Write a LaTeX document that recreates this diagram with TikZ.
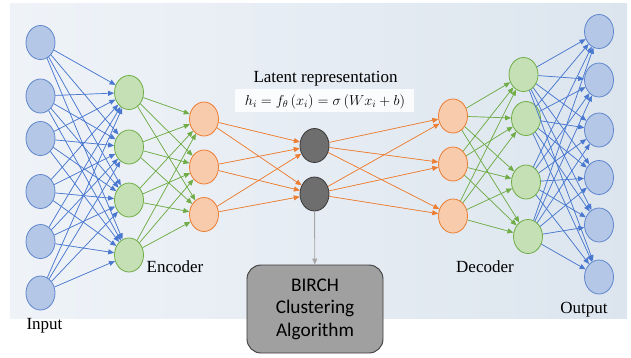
\documentclass[tikz,border=0pt]{standalone}
\usepackage{fontspec}
\setmainfont{Liberation Serif}
\newfontfamily\boxfont{Carlito}
\usetikzlibrary{shapes.geometric,arrows.meta}
\definecolor{bgL}{HTML}{EFF3F8}
\definecolor{bgR}{HTML}{DCE5EE}
\definecolor{blueFill}{HTML}{B4C7E7}
\definecolor{blueLine}{HTML}{4472C4}
\definecolor{blueEdge}{HTML}{4A78D0}
\definecolor{greenFill}{HTML}{C5E0B4}
\definecolor{greenLine}{HTML}{70AD47}
\definecolor{orangeFill}{HTML}{F8CBAD}
\definecolor{orangeLine}{HTML}{ED7D31}
\definecolor{latFill}{HTML}{6E6E6E}
\definecolor{latLine}{HTML}{3A3A3A}
\definecolor{boxFill}{HTML}{A0A0A0}
\definecolor{arrGray}{HTML}{A6A6A6}
\begin{document}
\begin{tikzpicture}[x=1pt,y=-1pt,
  neuron/.style={ellipse, minimum width=29pt, minimum height=34pt, inner sep=0pt, line width=0.8pt},
  bneuron/.style={neuron, fill=blueFill, draw=blueLine!85},
  gneuron/.style={neuron, fill=greenFill, draw=greenLine},
  oneuron/.style={neuron, fill=orangeFill, draw=orangeLine},
  lneuron/.style={neuron, fill=latFill, draw=latLine},
  edgebase/.style={line width=0.7pt, -{Triangle[length=6pt,width=5pt]}},
  bedge/.style={edgebase, draw=blueEdge, fill=blueEdge},
  gedge/.style={edgebase, draw=greenLine, fill=greenLine},
  oedge/.style={edgebase, draw=orangeLine, fill=orangeLine},
  lbl/.style={anchor=base, font=\fontsize{17}{20}\selectfont, inner sep=0pt},
]
\useasboundingbox (0,0) rectangle (631,357);
\shade[left color=bgL, right color=bgR] (10,3) rectangle (627,318);
\fill[white, opacity=0.85] (235,89) rectangle (414,112);

% input layer
\foreach \y [count=\i] in {42.5,96,138.5,191.5,241.5,293}
  \node[bneuron] (in\i) at (40.5,\y) {};
% encoder green
\foreach \y [count=\i] in {92.5,147,200,255}
  \node[gneuron] (eg\i) at (129,\y) {};
% encoder orange
\foreach \y [count=\i] in {119,167,214.5}
  \node[oneuron] (eo\i) at (204,\y) {};
% latent
\node[lneuron] (l1) at (314.5,145.5) {};
\node[lneuron] (l2) at (314.5,194) {};
% decoder orange
\foreach \y [count=\i] in {116,164,216}
  \node[oneuron] (do\i) at (453,\y) {};
% decoder green
\node[gneuron] (dg1) at (523.5,74.5) {};
\node[gneuron] (dg2) at (526,118.5) {};
\node[gneuron] (dg3) at (526,182) {};
\node[gneuron] (dg4) at (528,236.5) {};
% output
\foreach \y [count=\i] in {31.5,80,130,177.5,225,277}
  \node[bneuron] (out\i) at (599,\y) {};

% edges
\foreach \i in {1,...,6} \foreach \j in {1,...,4}
  \draw[bedge] (in\i) -- (eg\j);
\foreach \i in {1,...,4} \foreach \j in {1,...,3}
  \draw[gedge] (eg\i) -- (eo\j);
\foreach \i in {1,...,3} \foreach \j in {1,2}
  \draw[oedge] (eo\i) -- (l\j);
\foreach \i in {1,2} \foreach \j in {1,...,3}
  \draw[oedge] (l\i) -- (do\j);
\foreach \i in {1,...,3} \foreach \j in {1,...,4}
  \draw[gedge] (do\i) -- (dg\j);
\foreach \i in {1,...,4} \foreach \j in {1,...,6}
  \draw[bedge] (dg\i) -- (out\j);

% BIRCH box
\node[draw=latLine, line width=0.9pt, fill=boxFill, rounded corners=14pt,
      minimum width=136pt, minimum height=88pt, inner sep=0pt,
      align=center, font=\boxfont\fontsize{19.3}{22.5}\selectfont]
  (birch) at (315,309) {BIRCH\\Clustering\\Algorithm};
\draw[arrGray, line width=0.9pt, -{Triangle[length=6pt,width=5pt]}] (l2) -- (birch);

% labels
\node[lbl] (lat) at (325.5,82.5) {Latent representation};
\node[anchor=base, inner sep=0pt, font=\fontsize{14.8}{18}\selectfont] (form) at (325,105)
  {$h_i = f_\theta\left(x_i\right) = \sigma\left(W x_i + b\right)$};
\node[lbl] (enc) at (175,272.5) {Encoder};
\node[lbl] (dec) at (485,272.5) {Decoder};
\node[lbl] (inp) at (44.5,329.5) {Input};
\node[lbl] (outp) at (584,313) {Output};
\end{tikzpicture}
\end{document}
